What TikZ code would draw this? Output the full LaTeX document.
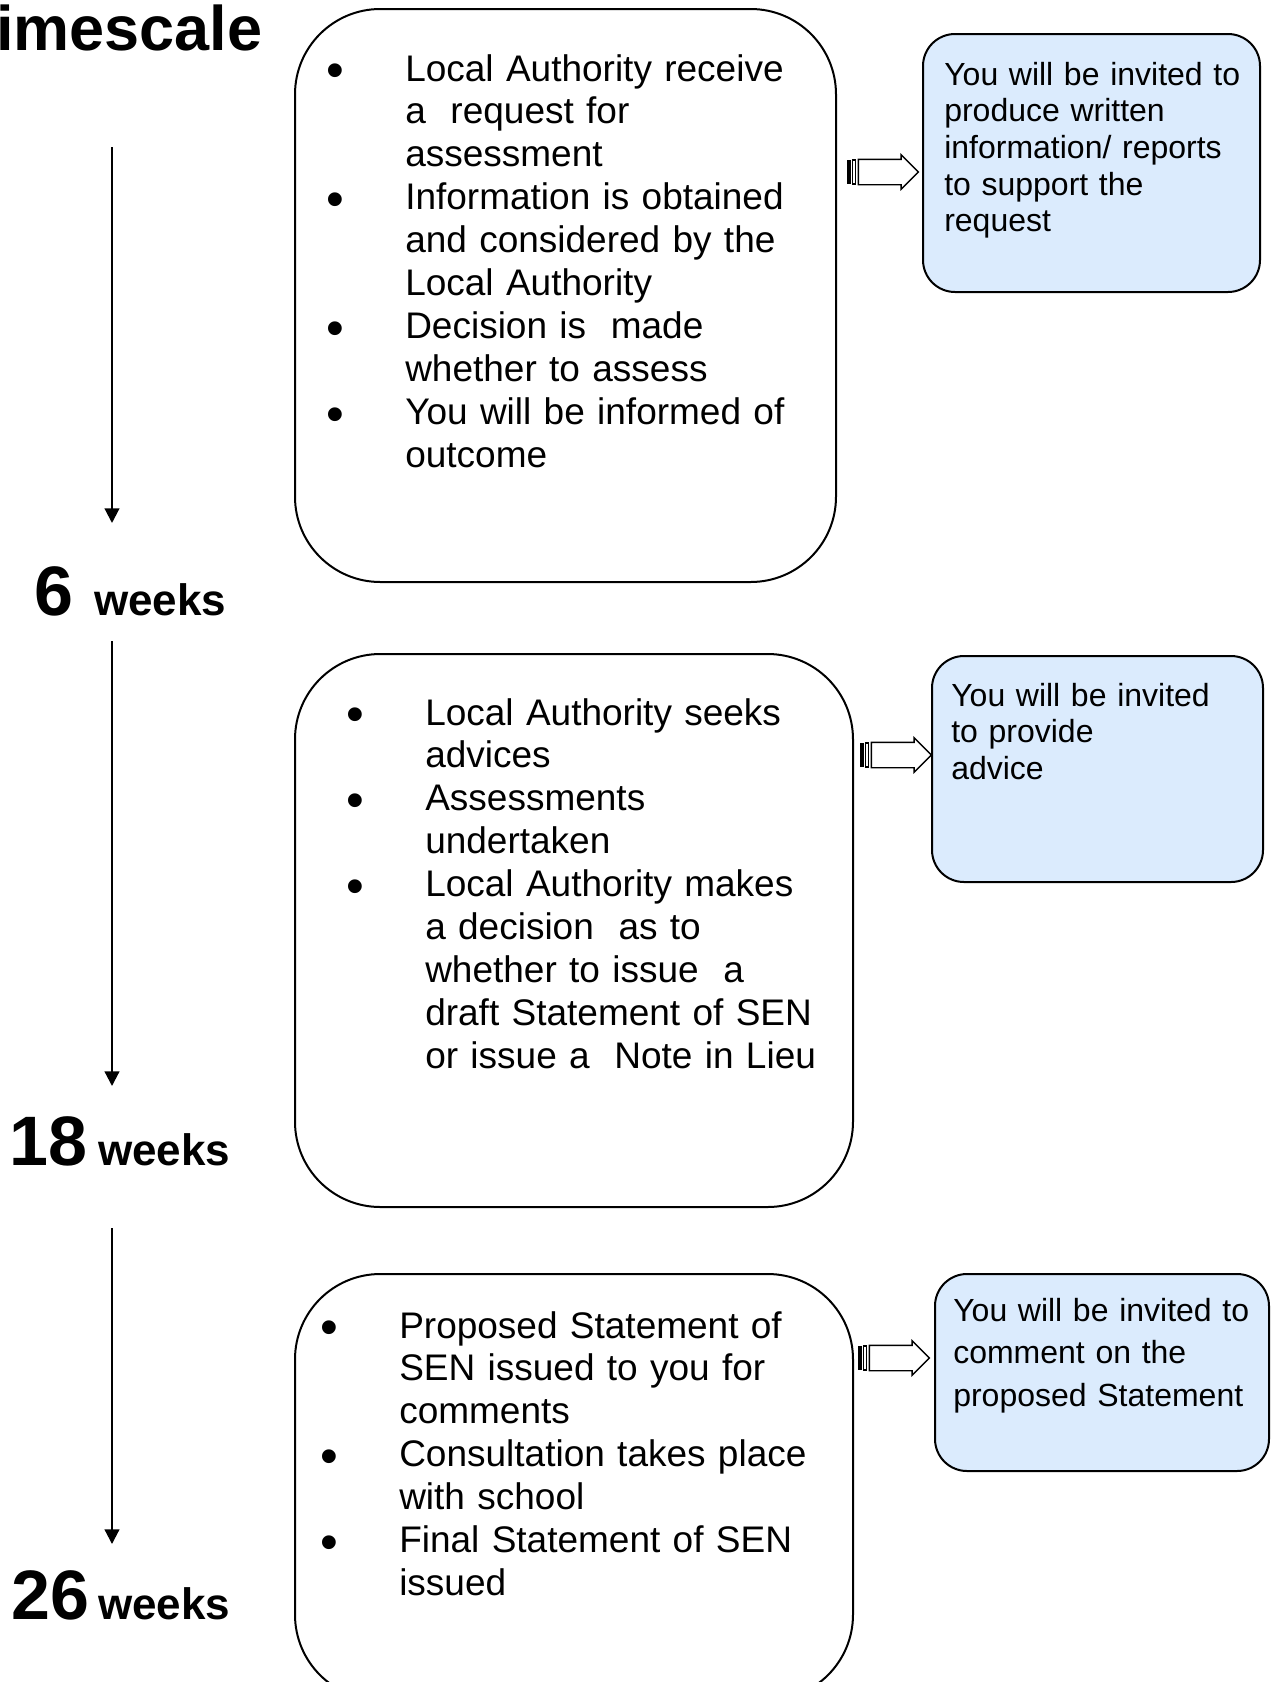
\documentclass[tikz,border=0pt]{standalone}
\usepackage{fontspec}
\setmainfont{Liberation Sans}
\usepackage{tikz}
\usetikzlibrary{calc,arrows.meta,shapes.arrows,positioning}
\definecolor{paleblue}{RGB}{219,235,253}
\newdimen\pxu \pxu=0.75pt
\newcommand{\bul}{\leavevmode\llap{\raisebox{-5pt}{\fontsize{38pt}{38pt}\selectfont\textbullet}\hspace{45.85pt}}}

\begin{document}
\begin{tikzpicture}[x=0.75pt,y=-0.75pt]

\tikzset{mainbox/.style={draw,line width=1.5pt,rounded corners=64pt,inner sep=0pt},
infobox/.style={draw,line width=1.5pt,fill=paleblue,rounded corners=24pt,inner sep=0pt},
listtext/.style={anchor=base west,inner sep=0pt,text width=470\pxu,align=left,font=\fontsize{27.75pt}{32.2pt}\selectfont},
infotext/.style={anchor=base west,inner sep=0pt,text width=320\pxu,align=left,font=\fontsize{24pt}{27.5pt}\selectfont},
timearrow/.style={line width=1.6pt,-{Triangle[length=11pt,width=11pt]}},
stripearrow/.style={single arrow,draw,line width=1pt,inner xsep=0pt,inner ysep=9pt,minimum height=60\pxu,single arrow head extend=3.4pt},
numlabel/.style={anchor=base west,inner sep=0pt,font=\fontsize{52.5pt}{60pt}\selectfont\bfseries},
weeklabel/.style={anchor=base west,inner sep=0pt,font=\fontsize{33pt}{40pt}\selectfont\bfseries}}

\path[use as bounding box,fill=white] (0,0) rectangle (1274,1682);

% Heading
\node[anchor=base west,inner sep=0pt,font=\fontsize{47.25pt}{56pt}\selectfont\bfseries] (title) at (-4,50) {imescale};

% Time line
\coordinate (t1top) at (112,147); \coordinate (t1bot) at (112,523);
\coordinate (t2top) at (112,641); \coordinate (t2bot) at (112,1086);
\coordinate (t3top) at (112,1228); \coordinate (t3bot) at (112,1544);
\draw[timearrow] (t1top) -- (t1bot);
\draw[timearrow] (t2top) -- (t2bot);
\draw[timearrow] (t3top) -- (t3bot);

\node[numlabel] (n6) at (34,615) {6}; \node[weeklabel] (w6) at (94,615) {weeks};
\node[numlabel] (n18) at (9,1165) {18}; \node[weeklabel] (w18) at (98,1165) {weeks};
\node[numlabel] (n26) at (11,1619) {26}; \node[weeklabel] (w26) at (98,1619) {weeks};

% Stage boxes
\node[mainbox,minimum width=541\pxu,minimum height=573\pxu] (box1) at (565.5,295.5) {};
\node[mainbox,minimum width=558\pxu,minimum height=553\pxu] (box2) at (574,930.5) {};
\node[mainbox,minimum width=558\pxu,minimum height=426\pxu] (box3) at (574,1487) {};

\node[listtext] (list1) at (405,81) {\bul Local Authority receive\\ a\ \ request for\\ assessment\\
\bul Information is obtained\\ and considered by the\\ Local Authority\\
\bul Decision is\ \ made\\ whether to assess\\
\bul You will be informed of\\ outcome};

\node[listtext] (list2) at (425,725) {\bul Local Authority seeks\\ advices\\
\bul Assessments\\ undertaken\\
\bul Local Authority makes\\ a decision\ \ as to\\ whether to issue\ \ a\\ draft Statement of SEN\\ or issue a\ \ Note in Lieu};

\node[listtext] (list3) at (399,1338) {\bul Proposed Statement of\\ SEN issued to you for\\ comments\\
\bul Consultation takes place\\ with school\\
\bul Final Statement of SEN\\ issued};

% Parent boxes
\node[infobox,minimum width=337\pxu,minimum height=258\pxu] (info1) at (1091.5,163) {};
\node[infobox,minimum width=331\pxu,minimum height=226\pxu] (info2) at (1097.5,769) {};
\node[infobox,minimum width=334\pxu,minimum height=197\pxu] (info3) at (1102,1372.5) {};

\node[infotext] (note1) at (944,85) {You will be invited to\\ produce written\\ information/ reports\\ to support the\\ request};
\node[infotext] (note2) at (951,706) {You will be invited\\ to provide\\ advice};
\node[infotext,font=\fontsize{24pt}{32.2pt}\selectfont] (note3) at (953,1321) {You will be invited to\\ comment on the\\ proposed Statement};

% Striped arrows
\node[stripearrow] (a1) at (882,172) {};
\node[stripearrow] (a2) at (895,755) {};
\node[stripearrow] (a3) at (893,1358) {};
\foreach \a in {a1,a2,a3} {
  \fill ($(\a.tail)+(-11,-12)$) rectangle ++(4,24);
  \draw[line width=1pt] ($(\a.tail)+(-5,-12)$) rectangle ++(2.5,24);
}

\end{tikzpicture}
\end{document}
